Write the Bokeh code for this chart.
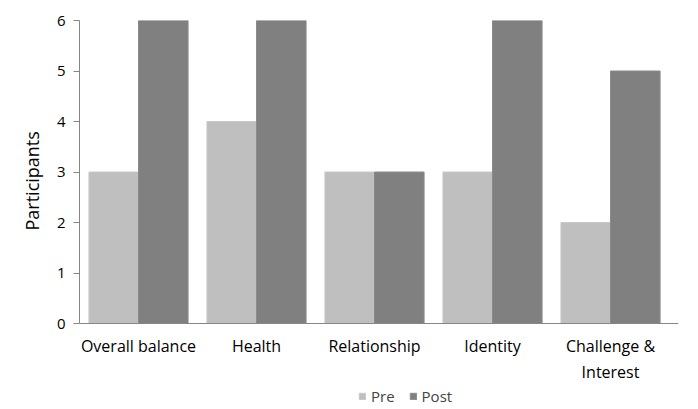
import numpy as np
from bokeh.plotting import figure
from bokeh.models import Range1d, FixedTicker, Legend, LegendItem, ColumnDataSource, Span, Title
from bokeh.transform import dodge
from bokeh.core.properties import value
from bokeh.embed import file_html
from bokeh.resources import INLINE

categories = ["Overall balance", "Health", "Relationship", "Identity", "Challenge &\nInterest"]
pre = [3, 4, 3, 3, 2]
post = [6, 6, 3, 6, 5]
y_ticks = [0, 1, 2, 3, 4, 5, 6]

FONT = "Open Sans"
PRE_C = "#bfbfbf"
POST_C = "#808080"
AX_C = "#868686"

x = np.arange(len(categories)) + 0.5
src = ColumnDataSource(dict(x=x, pre=pre, post=post, cat=categories, base=[0] * len(categories)))

# frame extends below the 0 line so the category labels and legend sit inside it
below_px, plot_px = 86, 303
p = figure(output_backend="svg", toolbar_location=None, x_axis_location=None,
           x_range=Range1d(0, 5.076), y_range=Range1d(-6 * below_px / plot_px, 6),
           frame_width=599, frame_height=plot_px + below_px,
           min_border_left=79, min_border_top=20, min_border_right=20, min_border_bottom=0)
p.outline_line_color = None
p.grid.visible = False
p.background_fill_color = "white"
p.border_fill_color = "white"

bw = 0.42
r1 = p.vbar(x=dodge("x", -bw / 2, range=p.x_range), top="pre", width=bw, source=src,
            fill_color=PRE_C, line_color="#c8c8c8", line_width=1)
r2 = p.vbar(x=dodge("x", bw / 2, range=p.x_range), top="post", width=bw, source=src,
            fill_color=POST_C, line_color="#8a8a8a", line_width=1)

# category axis line at 0
p.add_layout(Span(location=0, dimension="width", line_color=AX_C, line_width=1))

# category labels
p.text(x="x", y="base", text="cat", source=src, y_offset=11,
       text_align="center", text_baseline="top",
       text_font=value(FONT), text_font_size="16px", text_color="#000000")

ya = p.yaxis[0]
ya.ticker = FixedTicker(ticks=y_ticks)
ya.bounds = (0, 6)
ya.axis_line_color = AX_C
ya.major_tick_line_color = AX_C
ya.major_tick_out = 6
ya.major_tick_in = 0
ya.minor_tick_line_color = None
ya.major_label_text_font = FONT
ya.major_label_text_font_size = "15px"
ya.major_label_text_color = "#000000"
ya.major_label_standoff = 8

p.add_layout(Title(text="Participants", align="left", offset=179,
                   text_font=FONT, text_font_size="18px", text_font_style="normal",
                   text_color="#000000", standoff=20), "left")

legend = Legend(items=[LegendItem(label="Pre", renderers=[r1]),
                       LegendItem(label="Post", renderers=[r2])],
                orientation="horizontal", location=(279, 3),
                label_text_font=FONT, label_text_font_size="15px",
                label_height=16, glyph_width=8, glyph_height=8, label_standoff=5, spacing=14,
                border_line_color=None, background_fill_alpha=0,
                padding=0, margin=0)
p.add_layout(legend, "center")

open("out.html", "w").write(file_html(p, INLINE))
